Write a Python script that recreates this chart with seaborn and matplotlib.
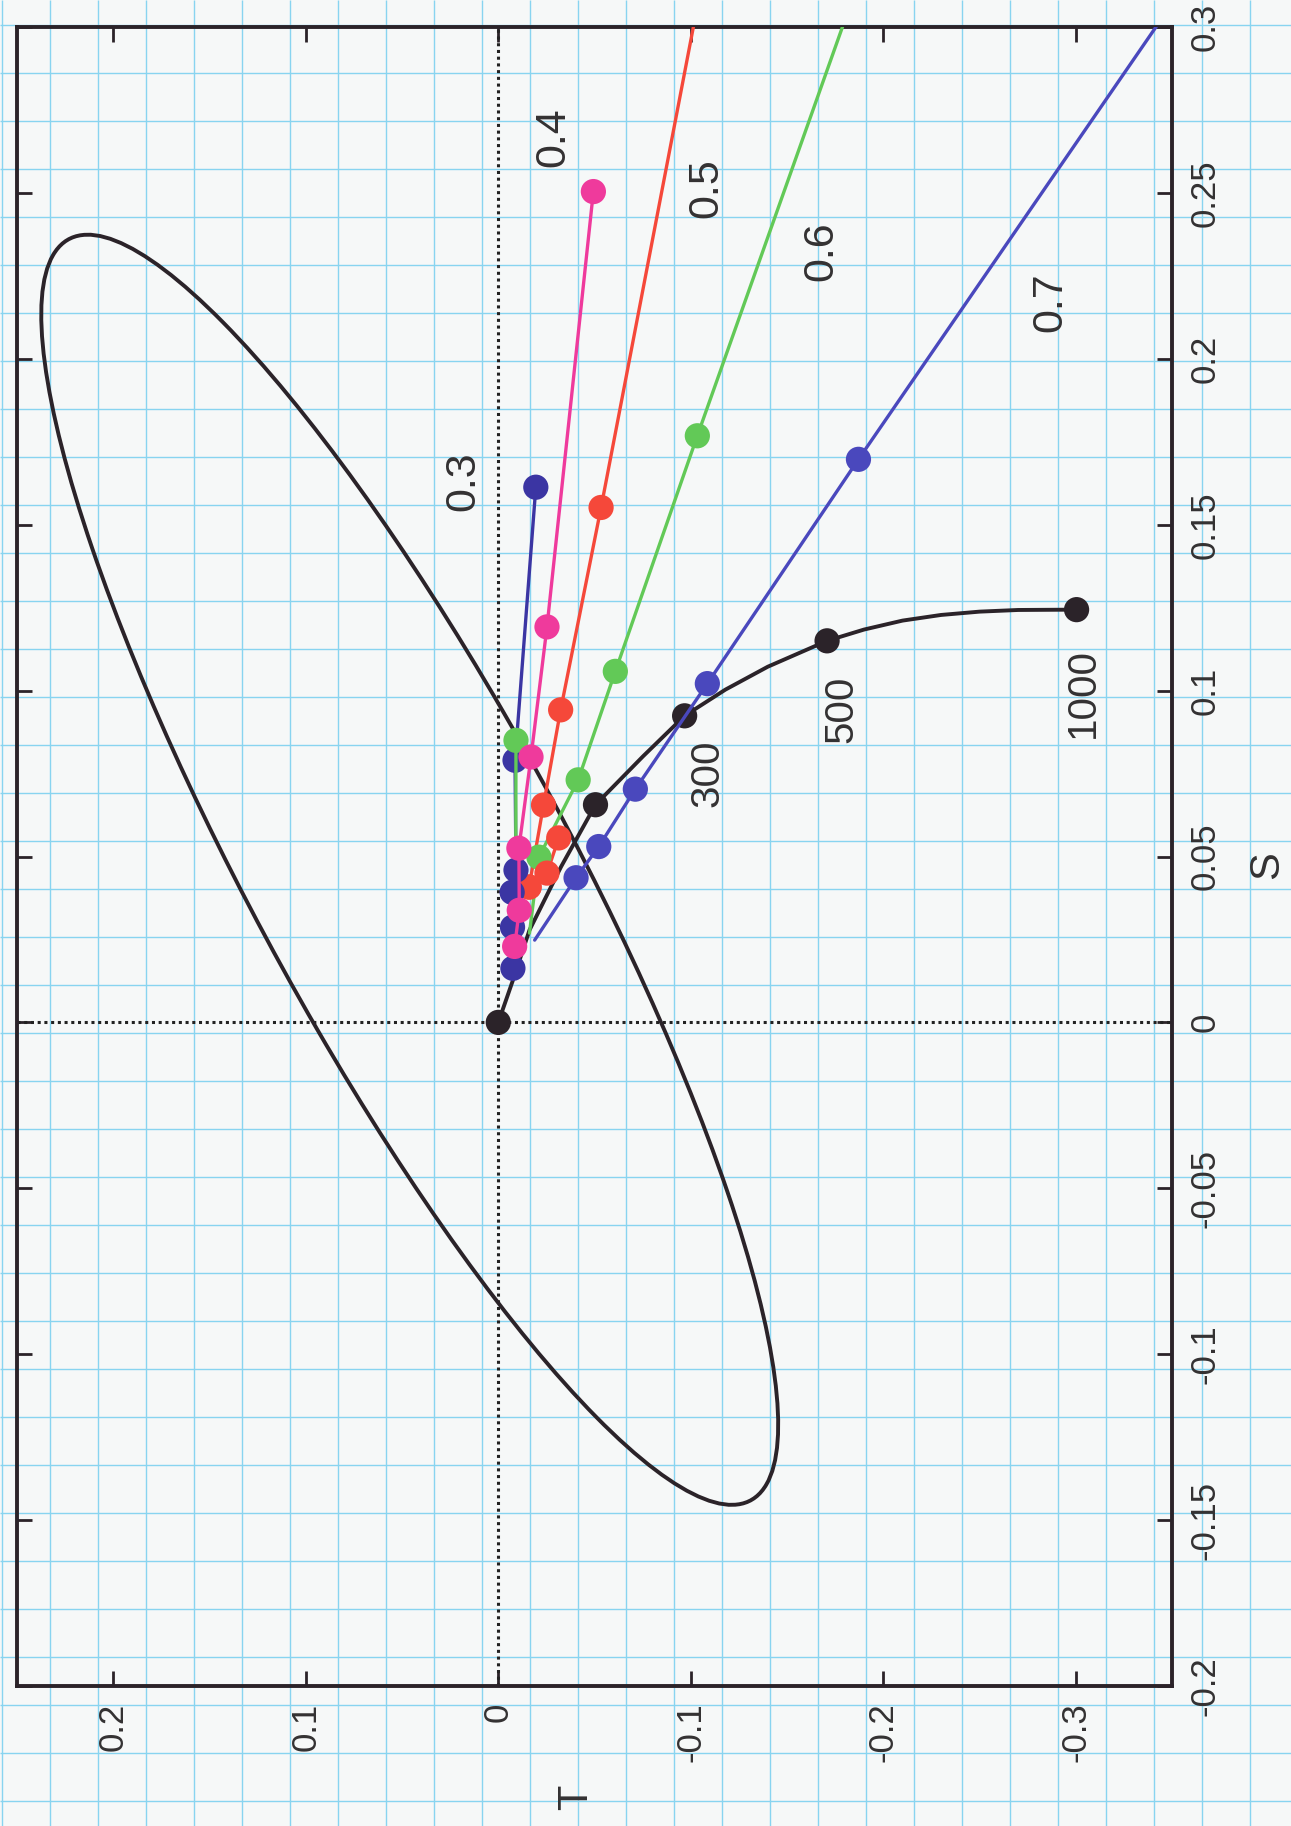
"""Phase-plane sketch of S against T, drawn rotated like the scanned sheet.

The page was printed turned 90 degrees, so T runs along the bottom
(decreasing to the right) and S runs up the right-hand side.
"""

import matplotlib

matplotlib.use("Agg")

import matplotlib.pyplot as plt
import numpy as np
import seaborn as sns
from matplotlib.patches import Ellipse

OUTPUT_PATH = "out.png"

# Axis ranges and ticks
T_LIMITS = (0.25, -0.35)
S_LIMITS = (-0.2, 0.3)
T_TICKS = [0.2, 0.1, 0.0, -0.1, -0.2, -0.3]
T_TICK_LABELS = ["0.2", "0.1", "0", "-0.1", "-0.2", "-0.3"]
S_TICKS = [-0.2, -0.15, -0.1, -0.05, 0.0, 0.05, 0.1, 0.15, 0.2, 0.25, 0.3]
S_TICK_LABELS = ["-0.2", "-0.15", "-0.1", "-0.05", "0", "0.05", "0.1",
                 "0.15", "0.2", "0.25", "0.3"]

# Ellipse (tilted along T = S)
ELLIPSE_CENTER = (0.046, 0.046)
ELLIPSE_WIDTH = 0.524
ELLIPSE_HEIGHT = 0.136
ELLIPSE_ANGLE = 45.0

# 0.3 series (dark blue)
S03_T = [-0.0076, -0.0074, -0.0072, -0.0092, -0.0087, -0.0195]
S03_S = [0.0163, 0.0287, 0.0392, 0.0459, 0.079, 0.1613]

# 0.4 series (magenta)
S04_T = [-0.0085, -0.0109, -0.0107, -0.0170, -0.0253, -0.0494]
S04_S = [0.0229, 0.0338, 0.0525, 0.080, 0.1192, 0.2504]

# 0.5 series (red): line runs off the top of the plot
S05_LINE_T = [-0.016, -0.0235, -0.0324, -0.0534, -0.1020]
S05_LINE_S = [0.0408, 0.0655, 0.0942, 0.1552, 0.302]
S05_DOT_T = [-0.016, -0.0235, -0.0324, -0.0534]
S05_DOT_S = [0.0408, 0.0655, 0.0942, 0.1552]
S05_SIDE_T = [-0.016, -0.0253, -0.0314]
S05_SIDE_S = [0.0408, 0.045, 0.0556]

# 0.6 series (green)
S06_LINE_T = [-0.0162, -0.0211, -0.0415, -0.0608, -0.1034, -0.1800]
S06_LINE_S = [0.0269, 0.0498, 0.0731, 0.1058, 0.1768, 0.302]
S06_DOT_T = [-0.0211, -0.0415, -0.0608, -0.1034]
S06_DOT_S = [0.0498, 0.0731, 0.1058, 0.1768]
S06_SIDE_T = [-0.0091, -0.0092]
S06_SIDE_S = [0.0558, 0.085]

# 0.7 series (blue)
S07_LINE_T = [-0.0189, -0.0404, -0.0522, -0.0712, -0.1086, -0.1871, -0.3440]
S07_LINE_S = [0.0248, 0.0436, 0.0530, 0.0703, 0.1021, 0.1697, 0.302]
S07_DOT_T = [-0.0404, -0.0522, -0.0712, -0.1086, -0.1871]
S07_DOT_S = [0.0436, 0.0530, 0.0703, 0.1021, 0.1697]

# Black curve through 300 / 500 / 1000
BLACK_LINE_T = [0.0, -0.0076, -0.0162, -0.0326, -0.0505, -0.0752, -0.0968,
                -0.118, -0.140, -0.1708, -0.190, -0.210, -0.230, -0.250,
                -0.270, -0.3004]
BLACK_LINE_S = [0.0, 0.0127, 0.0278, 0.0469, 0.0656, 0.0802, 0.0924,
                0.1003, 0.1072, 0.115, 0.1184, 0.1211, 0.1228, 0.1238,
                0.1243, 0.1244]
BLACK_DOT_T = [0.0, -0.0505, -0.0968, -0.1708, -0.3004]
BLACK_DOT_S = [0.0, 0.0656, 0.0924, 0.115, 0.1244]

# Curve labels
SERIES_LABELS = ["0.3", "0.4", "0.5", "0.6", "0.7"]
SERIES_LABEL_T = [0.0179, -0.0284, -0.1081, -0.168, -0.2867]
SERIES_LABEL_S = [0.163, 0.2669, 0.2513, 0.2323, 0.2172]
COUNT_LABELS = ["300", "500", "1000"]
COUNT_LABEL_T = [-0.1085, -0.1783, -0.3039]
COUNT_LABEL_S = [0.075, 0.0943, 0.0994]

COLOR_03 = "#3b35a3"
COLOR_04 = "#ef3a9c"
COLOR_05 = "#f5483a"
COLOR_06 = "#62c957"
COLOR_07 = "#4a48bd"
COLOR_BLACK = "#2b2329"
TEXT_COLOR = "#333132"
PAPER = "#f6f8f8"
PAPER_GRID = "#88d4f0"

DOT_SIZE = 330

sns.set_style("ticks")
plt.rcParams["font.family"] = ["Liberation Sans", "DejaVu Sans"]


def draw_paper(fig):
    """Light cyan squared paper behind everything."""
    bg = fig.add_axes([0, 0, 1, 1], zorder=-5)
    bg.set_xlim(0, 1291)
    bg.set_ylim(1826, 0)
    bg.vlines(np.arange(2, 1291, 48), 0, 1826, color=PAPER_GRID, lw=1.0)
    bg.hlines(np.arange(25, 1826, 48), 0, 1291, color=PAPER_GRID, lw=1.0)
    bg.axis("off")


def series(ax, t, s, color, lw=2.4, z=3):
    sns.lineplot(x=t, y=s, sort=False, estimator=None, color=color,
                 linewidth=lw, ax=ax, zorder=z)


def dots(ax, t, s, color, z=4):
    sns.scatterplot(x=t, y=s, color=color, s=DOT_SIZE, edgecolor="none",
                    linewidth=0, ax=ax, zorder=z)


def main():
    fig = plt.figure(figsize=(12.91, 18.26), dpi=100, facecolor=PAPER)
    draw_paper(fig)

    ax = fig.add_axes([0.01317, 0.07667, 0.8947, 0.90854])
    ax.set_facecolor("none")

    ax.axhline(0, color="#222222", lw=2.2, ls=(0, (1, 1.2)), zorder=1)
    ax.axvline(0, color="#222222", lw=2.2, ls=(0, (1, 1.2)), zorder=1)

    ax.add_patch(Ellipse(ELLIPSE_CENTER, ELLIPSE_WIDTH, ELLIPSE_HEIGHT,
                         angle=ELLIPSE_ANGLE, fill=False, edgecolor=COLOR_BLACK,
                         linewidth=2.8, zorder=2))

    series(ax, BLACK_LINE_T, BLACK_LINE_S, COLOR_BLACK, lw=2.8)
    dots(ax, BLACK_DOT_T, BLACK_DOT_S, COLOR_BLACK)

    series(ax, S07_LINE_T, S07_LINE_S, COLOR_07, z=5)
    dots(ax, S07_DOT_T, S07_DOT_S, COLOR_07, z=6)

    series(ax, S06_LINE_T, S06_LINE_S, COLOR_06, z=5)
    dots(ax, S06_DOT_T, S06_DOT_S, COLOR_06, z=6)

    series(ax, S05_LINE_T, S05_LINE_S, COLOR_05, z=5)
    dots(ax, S05_DOT_T, S05_DOT_S, COLOR_05, z=6)
    series(ax, S05_SIDE_T, S05_SIDE_S, COLOR_05, z=5)
    dots(ax, S05_SIDE_T, S05_SIDE_S, COLOR_05, z=6)

    series(ax, S03_T, S03_S, COLOR_03, z=7)
    dots(ax, S03_T, S03_S, COLOR_03, z=8)

    series(ax, S06_SIDE_T, S06_SIDE_S, COLOR_06, z=8)
    dots(ax, S06_SIDE_T[-1:], S06_SIDE_S[-1:], COLOR_06, z=9)

    series(ax, S04_T, S04_S, COLOR_04, z=9)
    dots(ax, S04_T, S04_S, COLOR_04, z=10)

    for label, t, s in zip(SERIES_LABELS, SERIES_LABEL_T, SERIES_LABEL_S):
        ax.text(t, s, label, rotation=90, ha="center", va="center",
                fontsize=31, color=TEXT_COLOR, zorder=12)
    for label, t, s in zip(COUNT_LABELS, COUNT_LABEL_T, COUNT_LABEL_S):
        ax.text(t, s, label, rotation=90, ha="center", va="center",
                fontsize=29, color=TEXT_COLOR, zorder=12)

    ax.set_xlim(*T_LIMITS)
    ax.set_ylim(*S_LIMITS)
    ax.set_xticks(T_TICKS)
    ax.set_xticklabels(T_TICK_LABELS)
    ax.set_yticks(S_TICKS)
    ax.set_yticklabels(S_TICK_LABELS)
    ax.yaxis.tick_right()
    ax.tick_params(axis="both", direction="in", length=11, width=2.0,
                   color=COLOR_BLACK, top=True, bottom=True, left=True,
                   right=True, labelleft=False, labelright=True,
                   labelsize=25, labelcolor=TEXT_COLOR, pad=12)
    ax.tick_params(axis="x", labelrotation=90)
    ax.tick_params(axis="y", labelrotation=90)
    for label in ax.get_yticklabels():
        label.set_verticalalignment("center")

    for spine in ax.spines.values():
        spine.set_visible(True)
        spine.set_color(COLOR_BLACK)
        spine.set_linewidth(2.8)

    ax.set_xlabel("T", rotation=90, fontsize=30, color=TEXT_COLOR, va="center")
    ax.xaxis.set_label_coords(0.484, -0.0669)
    ax.yaxis.set_label_position("right")
    ax.set_ylabel("S", rotation=90, fontsize=30, color=TEXT_COLOR,
                  va="center", ha="center")
    ax.yaxis.set_label_coords(1.0823, 0.4949)

    fig.savefig(OUTPUT_PATH, dpi=100, facecolor=PAPER)
    plt.close(fig)


if __name__ == "__main__":
    main()
